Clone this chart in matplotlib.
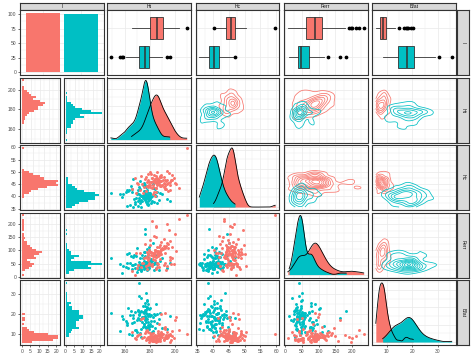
import numpy as np
import matplotlib
matplotlib.use("Agg")
import matplotlib.pyplot as plt
from matplotlib.ticker import MultipleLocator, AutoMinorLocator, MaxNLocator

plt.rcParams["font.family"] = ["Liberation Sans", "DejaVu Sans"]

# values (red group first, teal group second)
group_colors = ["#F8766D", "#00BFC4"]
var_names = ["Ht", "Hc", "Ferr", "Bfat"]
first_label = "I"

ht_red = [181.2, 191.6, 176.0, 185.5, 193.0, 183.4, 198.0, 179.7, 187.3, 172.5,
          186.0, 191.8, 177.8, 195.2, 184.6, 178.9, 188.7, 182.0, 201.0, 185.0,
          174.0, 190.4, 186.8, 181.8, 193.6, 169.0, 187.9, 184.0, 196.5, 180.5,
          188.0, 177.5, 192.5, 183.0, 185.8, 209.4, 179.0, 189.0, 175.8, 186.5,
          194.3, 182.5, 178.6, 190.0, 168.0, 187.0, 184.8, 197.0, 181.0, 191.0,
          178.0, 185.2, 199.2, 183.8, 188.3, 173.3, 192.0, 186.2, 180.8, 195.8,
          184.2, 171.0, 189.8, 182.8, 203.2, 185.6, 179.4, 187.6, 192.3, 177.0,
          165.5, 186.4, 193.9, 181.5, 188.9, 184.4, 176.8, 192.8, 183.2, 200.0,
          187.8, 179.8, 185.9, 194.8, 182.2, 193.4, 174.8, 186.9, 180.3, 196.0,
          183.6, 191.5, 178.5, 188.4, 185.3, 170.2, 189.2, 182.6, 197.8, 184.9,
          186.6, 179.2]
hc_red = [45.8, 44.0, 47.2, 46.1, 43.0, 42.0, 48.8, 44.6, 46.5, 42.5,
          46.9, 45.0, 44.3, 49.5, 48.5, 43.8, 46.3, 47.6, 45.2, 41.8,
          44.9, 46.7, 45.9, 43.5, 50.4, 41.6, 44.2, 47.0, 46.0, 44.7,
          48.2, 45.7, 42.9, 46.4, 44.5, 59.7, 49.2, 47.9, 43.9, 46.2,
          42.4, 41.0, 46.8, 44.8, 47.4, 45.9, 43.3, 46.6, 49.0, 45.6,
          44.1, 46.0, 47.7, 40.2, 48.0, 48.4, 44.4, 46.9, 45.8, 42.8,
          47.1, 45.0, 44.6, 46.3, 43.6, 50.0, 45.7, 44.9, 46.5, 48.0,
          43.1, 46.7, 45.2, 47.5, 44.3, 45.9, 42.2, 46.1, 48.6, 45.4,
          46.4, 44.0, 47.3, 45.5, 43.7, 46.8, 41.5, 45.1, 49.8, 44.7,
          45.8, 47.8, 44.2, 46.2, 43.4, 45.6, 48.9, 44.8, 46.6, 45.3,
          47.0, 44.5]
ferr_red = [82, 45, 124, 97, 25, 156, 71, 103, 38, 89,
            115, 52, 94, 178, 28, 84, 131, 48, 99, 74,
            53, 107, 88, 212, 41, 92, 120, 63, 77, 141,
            96, 30, 111, 80, 35, 234, 86, 101, 70, 47,
            126, 91, 64, 108, 8, 83, 150, 49, 95, 118,
            73, 189, 50, 100, 87, 36, 112, 79, 46, 136,
            93, 44, 105, 68, 221, 85, 54, 114, 90, 76,
            20, 98, 129, 39, 88, 102, 42, 117, 81, 164,
            69, 94, 52, 110, 78, 200, 51, 90, 122, 65,
            86, 145, 43, 97, 74, 33, 104, 83, 113, 195,
            92, 72]
bfat_red = [8.4, 6.9, 10.2, 7.8, 9.1, 6.3, 11.5, 8.0, 7.2, 9.6,
            8.7, 12.4, 7.5, 9.3, 6.6, 8.2, 10.8, 7.0, 18.5, 8.9,
            7.7, 9.8, 6.1, 8.5, 11.0, 7.3, 8.8, 9.4, 5.7, 10.5,
            8.1, 7.1, 13.2, 8.6, 6.8, 9.9, 7.6, 19.6, 8.3, 7.4,
            9.2, 6.4, 10.6, 10.0, 7.9, 14.8, 8.5, 6.7, 9.7, 7.0,
            11.8, 8.0, 7.5, 9.0, 6.2, 17.4, 8.4, 10.3, 7.2, 9.45,
            6.5, 9.5, 8.2, 7.7, 12.0, 8.6, 5.9, 9.1, 20.4, 6.9,
            10.7, 7.3, 8.8, 6.0, 9.4, 8.1, 11.2, 7.6, 8.5, 16.9,
            7.1, 9.0, 6.6, 8.3, 10.1, 7.9, 18.0, 11.4, 6.9, 9.6,
            8.0, 12.8, 7.4, 9.2, 6.3, 8.6, 10.4, 7.0, 8.9, 5.8,
            9.3, 7.5]

ht_teal = [174.0, 178.5, 171.0, 180.8, 176.2, 168.5, 183.0, 175.3, 172.4, 177.6,
           179.4, 165.0, 176.8, 173.2, 186.0, 166.5, 170.0, 178.0, 175.8, 181.5,
           149.0, 177.2, 172.8, 184.5, 175.0, 162.0, 179.0, 184.5, 176.5, 169.5,
           178.8, 163.0, 181.0, 156.0, 176.0, 171.8, 188.0, 175.5, 167.0, 177.8,
           173.0, 180.2, 175.9, 163.5, 178.2, 172.0, 176.7, 193.4, 174.8, 170.5,
           177.0, 157.9, 179.8, 173.5, 175.2, 182.4, 168.0, 176.4, 171.2, 178.6,
           186.0, 190.0, 172.6, 176.9, 166.0, 179.2, 175.6, 162.0, 185.0, 177.4,
           159.0, 176.1, 180.5, 171.5, 183.5, 178.1, 169.0, 175.4, 195.9, 172.2,
           177.5, 165.5, 164.5, 179.6, 176.3, 170.8, 182.0, 182.5, 178.3, 161.0,
           175.1, 171.4, 187.0, 176.6, 173.1, 179.1, 167.8, 177.1, 174.7, 180.0]
hc_teal = [40.3, 38.0, 42.5, 39.6, 41.2, 36.8, 43.5, 40.8, 37.5, 41.8,
           39.0, 44.2, 40.5, 38.6, 42.0, 35.9, 41.0, 39.8, 45.5, 38.2,
           41.5, 37.9, 40.1, 43.0, 39.3, 42.8, 36.5, 40.6, 38.8, 41.3,
           39.5, 42.2, 37.2, 40.9, 44.6, 38.4, 41.6, 39.9, 47.0, 40.2,
           38.1, 41.1, 39.4, 42.6, 37.0, 40.7, 43.8, 38.9, 40.0, 36.2,
           42.4, 39.7, 41.4, 38.3, 40.4, 45.0, 37.7, 41.9, 39.2, 40.5,
           37.4, 40.8, 43.2, 39.1, 41.7, 38.5, 42.1, 36.0, 40.3, 39.6,
           41.0, 38.7, 40.0, 44.0, 37.8, 42.7, 39.5, 41.5, 38.0, 46.2,
           40.6, 42.9, 36.6, 39.8, 41.2, 38.2, 40.1, 43.6, 37.1, 41.8,
           39.3, 40.9, 38.6, 42.3, 35.7, 41.3, 39.0, 40.4, 44.8, 38.9]
ferr_teal = [45, 74, 30, 52, 78, 34, 49, 95, 41, 57,
             33, 79, 47, 22, 54, 43, 110, 36, 60, 50,
             72, 40, 29, 56, 46, 85, 35, 84, 44, 18,
             51, 33, 66, 48, 164, 42, 58, 31, 75, 47,
             26, 53, 44, 90, 25, 72, 49, 34, 70, 43,
             55, 12, 46, 82, 35, 127, 50, 93, 41, 28,
             48, 73, 35, 57, 44, 100, 40, 52, 32, 77,
             42, 182, 59, 45, 24, 49, 80, 36, 54, 46,
             104, 31, 51, 115, 43, 30, 58, 47, 88, 36,
             44, 55, 27, 76, 50, 41, 81, 34, 48, 53]
bfat_teal = [18.5, 13.2, 22.0, 16.4, 25.6, 11.8, 19.8, 14.9, 20.7, 17.3,
             12.5, 21.2, 17.9, 27.8, 15.3, 19.1, 10.6, 23.4, 18.2, 13.9,
             20.1, 16.0, 8.4, 19.5, 24.1, 14.2, 18.8, 12.9, 21.8, 17.0,
             15.6, 22.7, 19.3, 11.2, 17.6, 35.5, 20.4, 13.6, 18.0, 26.3,
             21.5, 14.6, 18.6, 9.8, 19.9, 16.7, 30.4, 12.2, 20.9, 17.8,
             13.0, 19.0, 23.0, 15.9, 18.3, 11.5, 21.0, 16.9, 28.9, 14.4,
             19.6, 12.7, 17.4, 20.2, 9.2, 22.4, 18.1, 15.1, 24.8, 13.4,
             17.1, 21.6, 14.0, 19.4, 16.2, 26.9, 12.0, 20.6, 18.7, 10.2,
             22.9, 15.4, 19.2, 13.7, 17.7, 21.3, 11.0, 18.4, 25.0, 16.5,
             14.8, 20.0, 17.5, 23.8, 12.4, 19.7, 15.8, 21.9, 13.3, 18.9]

groups = [
    [np.array(ht_red), np.array(hc_red), np.array(ferr_red, float), np.array(bfat_red)],
    [np.array(ht_teal), np.array(hc_teal), np.array(ferr_teal, float), np.array(bfat_teal)],
]
tick_step = [20, 5, 50, 10]

BORDER = "#333333"
GRID = "#EBEBEB"
TXT = "#4D4D4D"
FS = 3.6


def expanded(lo, hi, f=0.05):
    d = (hi - lo) * f
    return lo - d, hi + d


def var_range(k):
    allv = np.concatenate([g[k] for g in groups])
    return allv.min(), allv.max()


def iqr(x):
    q75, q25 = np.percentile(x, [75, 25])
    return q75 - q25


def bw_nrd0(x):
    return 0.9 * min(x.std(ddof=1), iqr(x) / 1.34) * len(x) ** -0.2


def bw_nrd(x):
    return 4 * 1.06 * min(x.std(ddof=1), iqr(x) / 1.34) * len(x) ** -0.2


def gauss(u):
    return np.exp(-0.5 * u ** 2) / np.sqrt(2 * np.pi)


def kde2d(x, y, gx, gy):
    hx = bw_nrd(x) / 4
    hy = bw_nrd(y) / 4
    ax_ = gauss((gx[:, None] - x[None, :]) / hx)
    ay_ = gauss((gy[:, None] - y[None, :]) / hy)
    return (ay_ @ ax_.T) / (len(x) * hx * hy)


def style(ax, xloc=None, yloc=None, xminor=True, yminor=True, xlab=False, ylab=False):
    ax.set_facecolor("white")
    for s in ax.spines.values():
        s.set_color(BORDER)
        s.set_linewidth(0.8)
    if xloc is not None:
        ax.xaxis.set_major_locator(xloc)
    if yloc is not None:
        ax.yaxis.set_major_locator(yloc)
    if xminor:
        ax.xaxis.set_minor_locator(AutoMinorLocator(2))
    if yminor:
        ax.yaxis.set_minor_locator(AutoMinorLocator(2))
    ax.grid(which="major", color=GRID, lw=0.55)
    ax.grid(which="minor", color=GRID, lw=0.3)
    ax.set_axisbelow(True)
    ax.tick_params(which="minor", length=0)
    ax.tick_params(which="major", length=1.6, width=0.5, color=BORDER,
                   labelsize=FS, labelcolor=TXT, pad=1)
    ax.tick_params(axis="x", which="major", length=1.6 if xlab else 0, labelbottom=xlab)
    ax.tick_params(axis="y", which="major", length=1.6 if ylab else 0, labelleft=ylab)


W, H = 474, 354
fig = plt.figure(figsize=(W / 100, H / 100), dpi=100)


def add(x0, y0, w, h):
    return fig.add_axes([x0 / W, 1 - (y0 + h) / H, w / W, h / H])


col_x = [20, 107, 195.5, 284, 372]
col_w = 83.5
row_y = [10, 77.5, 145, 212.5, 280]
row_h = 65
labels = [first_label] + var_names


def strip(x0, y0, w, h, text, rot=0):
    s = add(x0, y0, w, h)
    s.set_facecolor("#D9D9D9")
    for sp in s.spines.values():
        sp.set_color(BORDER)
        sp.set_linewidth(0.8)
    s.set_xticks([])
    s.set_yticks([])
    s.text(0.5, 0.5, text, ha="center", va="center", rotation=rot,
           fontsize=FS, color="#1A1A1A", transform=s.transAxes)


for j in range(5):
    strip(col_x[j], 3, col_w, 6.5, labels[j])
for i in range(5):
    strip(457, row_y[i], 12, row_h, labels[i], rot=-90)

lims = [expanded(*var_range(k)) for k in range(4)]

# row 1, col 1: counts
ax = add(col_x[0], row_y[0], col_w, row_h)
counts = [len(g[0]) for g in groups]
ax.bar([1, 2], counts, width=0.9, color=group_colors, lw=0)
ax.set_xlim(0.4, 2.6)
ax.set_ylim(expanded(0, max(counts)))
style(ax, xloc=MultipleLocator(1), yloc=MultipleLocator(25), xminor=False, ylab=True)

# row 1, cols 2-5: boxplots
for k in range(4):
    ax = add(col_x[k + 1], row_y[0], col_w, row_h)
    for gi, pos in [(0, 2), (1, 1)]:
        ax.boxplot([groups[gi][k]], positions=[pos], orientation="horizontal",
                   widths=0.75, patch_artist=True, showcaps=False,
                   boxprops=dict(facecolor=group_colors[gi], edgecolor=BORDER, lw=0.6),
                   medianprops=dict(color=BORDER, lw=1.1),
                   whiskerprops=dict(color=BORDER, lw=0.6),
                   flierprops=dict(marker="o", markerfacecolor="black",
                                   markeredgecolor="black", markersize=1.7))
    ax.set_xlim(lims[k])
    ax.set_ylim(0.4, 2.6)
    style(ax, xloc=MultipleLocator(tick_step[k]), yloc=MultipleLocator(1), yminor=False)

# col 1, rows 2-5: histograms per group
sub_w = (col_w - 4) / 2
for k in range(4):
    lo, hi = var_range(k)
    bw = (hi - lo) / 29
    edges = lo - bw / 2 + bw * np.arange(31)
    centers = (edges[:-1] + edges[1:]) / 2
    hists = [np.histogram(g[k], bins=edges)[0] for g in groups]
    mx = max(h.max() for h in hists)
    for gi in range(2):
        ax = add(col_x[0] + gi * (sub_w + 4), row_y[k + 1], sub_w, row_h)
        ax.barh(centers, hists[gi], height=bw, color=group_colors[gi], lw=0)
        ax.set_ylim(lims[k])
        ax.set_xlim(expanded(0, mx))
        style(ax, xloc=MultipleLocator(5), yloc=MultipleLocator(tick_step[k]),
              xlab=(k == 3), ylab=(gi == 0))

# pairs of continuous variables
for r in range(4):
    for c in range(4):
        ax = add(col_x[c + 1], row_y[r + 1], col_w, row_h)
        ax.set_xlim(lims[c])
        if r == c:
            dens = []
            for g in groups:
                x = g[c]
                grid = np.linspace(x.min(), x.max(), 512)
                h = bw_nrd0(x)
                d = gauss((grid[:, None] - x[None, :]) / h).sum(1) / (len(x) * h)
                dens.append((grid, d))
            for gi, (grid, d) in enumerate(dens):
                ax.fill_between(grid, d, color=group_colors[gi], lw=0)
                ax.plot(grid, d, color="black", lw=0.6)
            m = max(d.max() for _, d in dens)
            ax.set_ylim(-0.05 * m, 1.05 * m)
            style(ax, xloc=MultipleLocator(tick_step[c]), yloc=MaxNLocator(4),
                  xlab=(r == 3))
        elif r > c:
            for gi in [1, 0]:
                ax.scatter(groups[gi][c], groups[gi][r], s=4.5, color=group_colors[gi], lw=0)
            ax.set_ylim(lims[r])
            style(ax, xloc=MultipleLocator(tick_step[c]), yloc=MultipleLocator(tick_step[r]),
                  xlab=(r == 3))
        else:
            xlo, xhi = var_range(c)
            ylo, yhi = var_range(r)
            gx = np.linspace(xlo, xhi, 100)
            gy = np.linspace(ylo, yhi, 100)
            for gi, g in enumerate(groups):
                z = kde2d(g[c], g[r], gx, gy)
                lev = MaxNLocator(10, steps=[1, 2, 5, 10]).tick_values(z.min(), z.max())
                lev = lev[(lev > z.min()) & (lev < z.max())]
                ax.contour(gx, gy, z, levels=lev, colors=group_colors[gi], linewidths=0.55)
            ax.set_ylim(lims[r])
            style(ax, xloc=MultipleLocator(tick_step[c]), yloc=MultipleLocator(tick_step[r]))

fig.savefig("out.png", dpi=100, facecolor="white")
